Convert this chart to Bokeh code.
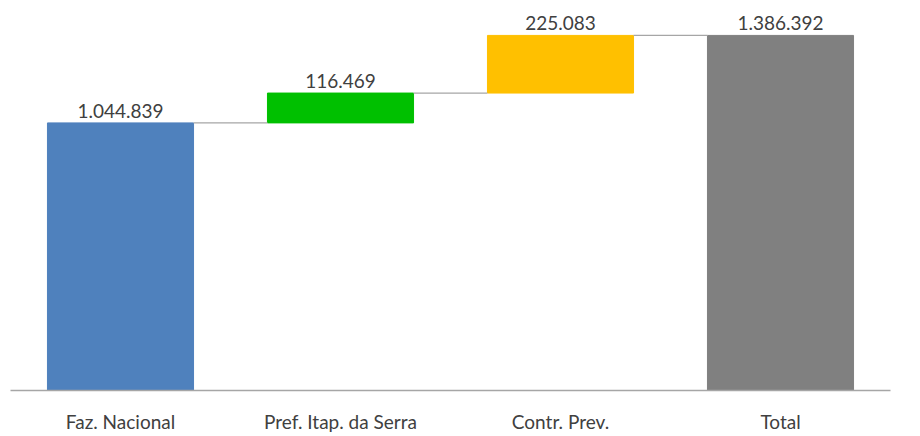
from bokeh.plotting import figure
from bokeh.models import Range1d, FixedTicker, ColumnDataSource
from bokeh.core.properties import value
from bokeh.embed import file_html
from bokeh.resources import INLINE

categories = ["Faz. Nacional", "Pref. Itap. da Serra", "Contr. Prev.", "Total"]
values = [1044839, 116469, 225083, 1386392]
labels = ["1.044.839", "116.469", "225.083", "1.386.392"]
colors = ["#4F81BD", "#00C000", "#FFC000", "#808080"]
is_total = [False, False, False, True]

FONT = "Lato"
BAR_W = 0.664

# waterfall bottoms / tops
bottoms, tops = [], []
running = 0
for v, t in zip(values, is_total):
    if t:
        bottoms.append(0)
        tops.append(v)
    else:
        bottoms.append(running)
        running += v
        tops.append(running)

xs = [i + 0.5 for i in range(len(categories))]

p = figure(width=910, height=435, output_backend="svg", toolbar_location=None,
           x_range=Range1d(0, len(categories)), y_range=Range1d(0, 1522700),
           min_border_left=10, min_border_right=20, min_border_top=0, min_border_bottom=30)

src = ColumnDataSource(dict(x=xs, bottom=bottoms, top=tops, color=colors, label=labels))
p.vbar(x="x", width=BAR_W, bottom="bottom", top="top", fill_color="color",
       line_color="color", line_width=1, source=src)

# connectors
cx0 = [xs[i] + BAR_W / 2 for i in range(len(xs) - 1)]
cx1 = [xs[i + 1] - BAR_W / 2 for i in range(len(xs) - 1)]
cy = [tops[i] for i in range(len(xs) - 1)]
p.segment(x0=cx0, y0=cy, x1=cx1, y1=cy, line_color="#A6A6A6", line_width=1.2)

p.text(x="x", y="top", text="label", source=src, text_align="center",
       text_baseline="bottom", y_offset=-5, text_font=value(FONT),
       text_font_size="19px", text_color="#404040")

p.xaxis.ticker = FixedTicker(ticks=xs)
p.xaxis.major_label_overrides = {x: c for x, c in zip(xs, categories)}
p.xaxis.major_tick_line_color = None
p.xaxis.minor_tick_line_color = None
p.xaxis.axis_line_color = "#A6A6A6"
p.xaxis.axis_line_width = 1.5
p.xaxis.major_label_text_font = FONT
p.xaxis.major_label_text_font_size = "19px"
p.xaxis.major_label_text_color = "#404040"
p.xaxis.major_label_standoff = 13
p.yaxis.visible = False
p.xgrid.visible = False
p.ygrid.visible = False
p.outline_line_color = None

open("out.html", "w").write(file_html(p, INLINE))
